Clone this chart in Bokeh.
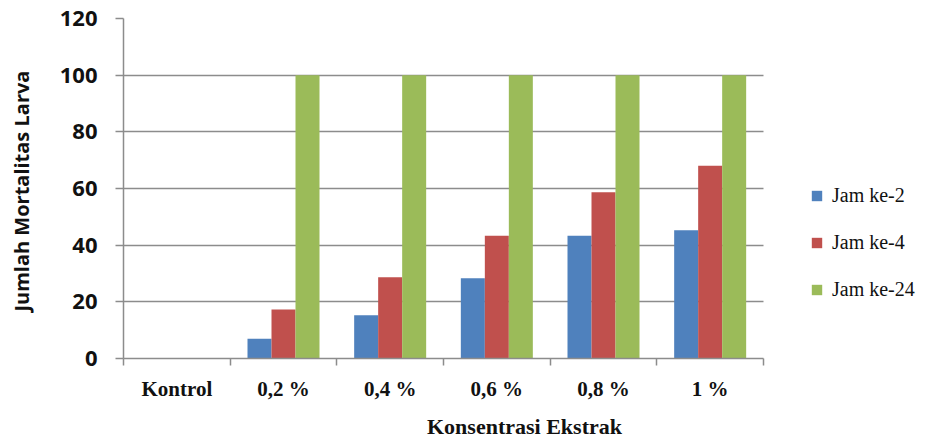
from bokeh.plotting import figure
from bokeh.models import FixedTicker, Legend, LegendItem, Range1d, ColumnDataSource
from bokeh.embed import file_html
from bokeh.resources import INLINE
import numpy as np

categories = ["Kontrol", "0,2 %", "0,4 %", "0,6 %", "0,8 %", "1 %"]
series_names = ["Jam ke-2", "Jam ke-4", "Jam ke-24"]
jam2 = [0, 7.0, 15.3, 28.3, 43.3, 45.3]
jam4 = [0, 17.3, 28.7, 43.3, 58.7, 68.0]
jam24 = [0, 100, 100, 100, 100, 100]
y_ticks = [0, 20, 40, 60, 80, 100, 120]

colors = ["#4F81BD", "#C0504D", "#9BBB59"]
GRAY = "#8C8C8C"

n = len(categories)
centers = np.arange(n) + 0.5
bw = 0.225
offsets = [-bw, 0.0, bw]

# frame extends to the right edge so the legend can sit inside it;
# the plotted area (grid, axis) is bounded to the categories.
W, LEFT, PLOT_W = 925, 123, 640
x_end = n * (W - LEFT) / PLOT_W

p = figure(width=W, height=441, output_backend="svg", toolbar_location=None,
           x_range=Range1d(0, x_end), y_range=Range1d(0, 120),
           min_border_left=LEFT, min_border_right=0, min_border_top=18, min_border_bottom=83)
p.outline_line_color = None
p.background_fill_color = "white"
p.border_fill_color = "white"

renderers = []
for vals, off, col in zip([jam2, jam4, jam24], offsets, colors):
    src = ColumnDataSource(dict(x=centers + off, top=vals))
    r = p.vbar(x="x", top="top", width=bw, bottom=0, source=src,
               fill_color=col, line_color=None)
    renderers.append(r)

# grid
p.xgrid.grid_line_color = None
p.ygrid.ticker = FixedTicker(ticks=y_ticks)
p.ygrid.grid_line_color = GRAY
p.ygrid.grid_line_width = 1.5
p.ygrid.cross_bounds = (0, n)

# y axis
p.yaxis.ticker = FixedTicker(ticks=y_ticks)
p.yaxis.axis_line_color = GRAY
p.yaxis.axis_line_width = 1.5
p.yaxis.major_tick_line_color = GRAY
p.yaxis.major_tick_line_width = 1.5
p.yaxis.major_tick_out = 8
p.yaxis.major_tick_in = 0
p.yaxis.minor_tick_line_color = None
p.yaxis.major_label_standoff = 18
p.yaxis.major_label_text_font = "Open Sans"
p.yaxis.major_label_text_font_size = "22px"
p.yaxis.major_label_text_font_style = "bold"
p.yaxis.major_label_text_color = "#111111"
p.yaxis.axis_label = "Jumlah Mortalitas  Larva"
p.yaxis.axis_label_text_font = "Open Sans"
p.yaxis.axis_label_text_font_size = "20px"
p.yaxis.axis_label_text_font_style = "bold"
p.yaxis.axis_label_text_color = "#111111"
p.yaxis.axis_label_standoff = 22

# x axis
p.xaxis.bounds = (0, n)
p.xaxis.ticker = FixedTicker(ticks=list(centers), minor_ticks=list(range(n + 1)))
p.xaxis.major_label_overrides = {float(c): lab for c, lab in zip(centers, categories)}
p.xaxis.axis_line_color = GRAY
p.xaxis.axis_line_width = 1.5
p.xaxis.major_tick_line_color = None
p.xaxis.major_tick_out = 7
p.xaxis.major_tick_in = 0
p.xaxis.minor_tick_line_color = GRAY
p.xaxis.minor_tick_line_width = 1.5
p.xaxis.minor_tick_out = 7
p.xaxis.minor_tick_in = 0
p.xaxis.major_label_standoff = 11
p.xaxis.major_label_text_font = "Liberation Serif"
p.xaxis.major_label_text_font_size = "21px"
p.xaxis.major_label_text_font_style = "bold"
p.xaxis.major_label_text_color = "#111111"
p.xaxis.axis_label = "Konsentrasi Ekstrak"
p.xaxis.axis_label_text_font = "Liberation Serif"
p.xaxis.axis_label_text_font_size = "22px"
p.xaxis.axis_label_text_font_style = "bold"
p.xaxis.axis_label_text_color = "#111111"
p.xaxis.axis_label_standoff = 10

legend = Legend(items=[LegendItem(label=s, renderers=[r]) for s, r in zip(series_names, renderers)],
                location=(687, 57))
legend.glyph_width = 13
legend.glyph_height = 13
legend.label_height = 13
legend.spacing = 24
legend.padding = 0
legend.margin = 0
legend.label_standoff = 9
legend.border_line_color = None
legend.background_fill_alpha = 0
legend.label_text_font = "Liberation Serif"
legend.label_text_font_size = "20px"
legend.label_text_color = "#111111"
p.add_layout(legend, "center")

open("out.html", "w").write(file_html(p, INLINE))
